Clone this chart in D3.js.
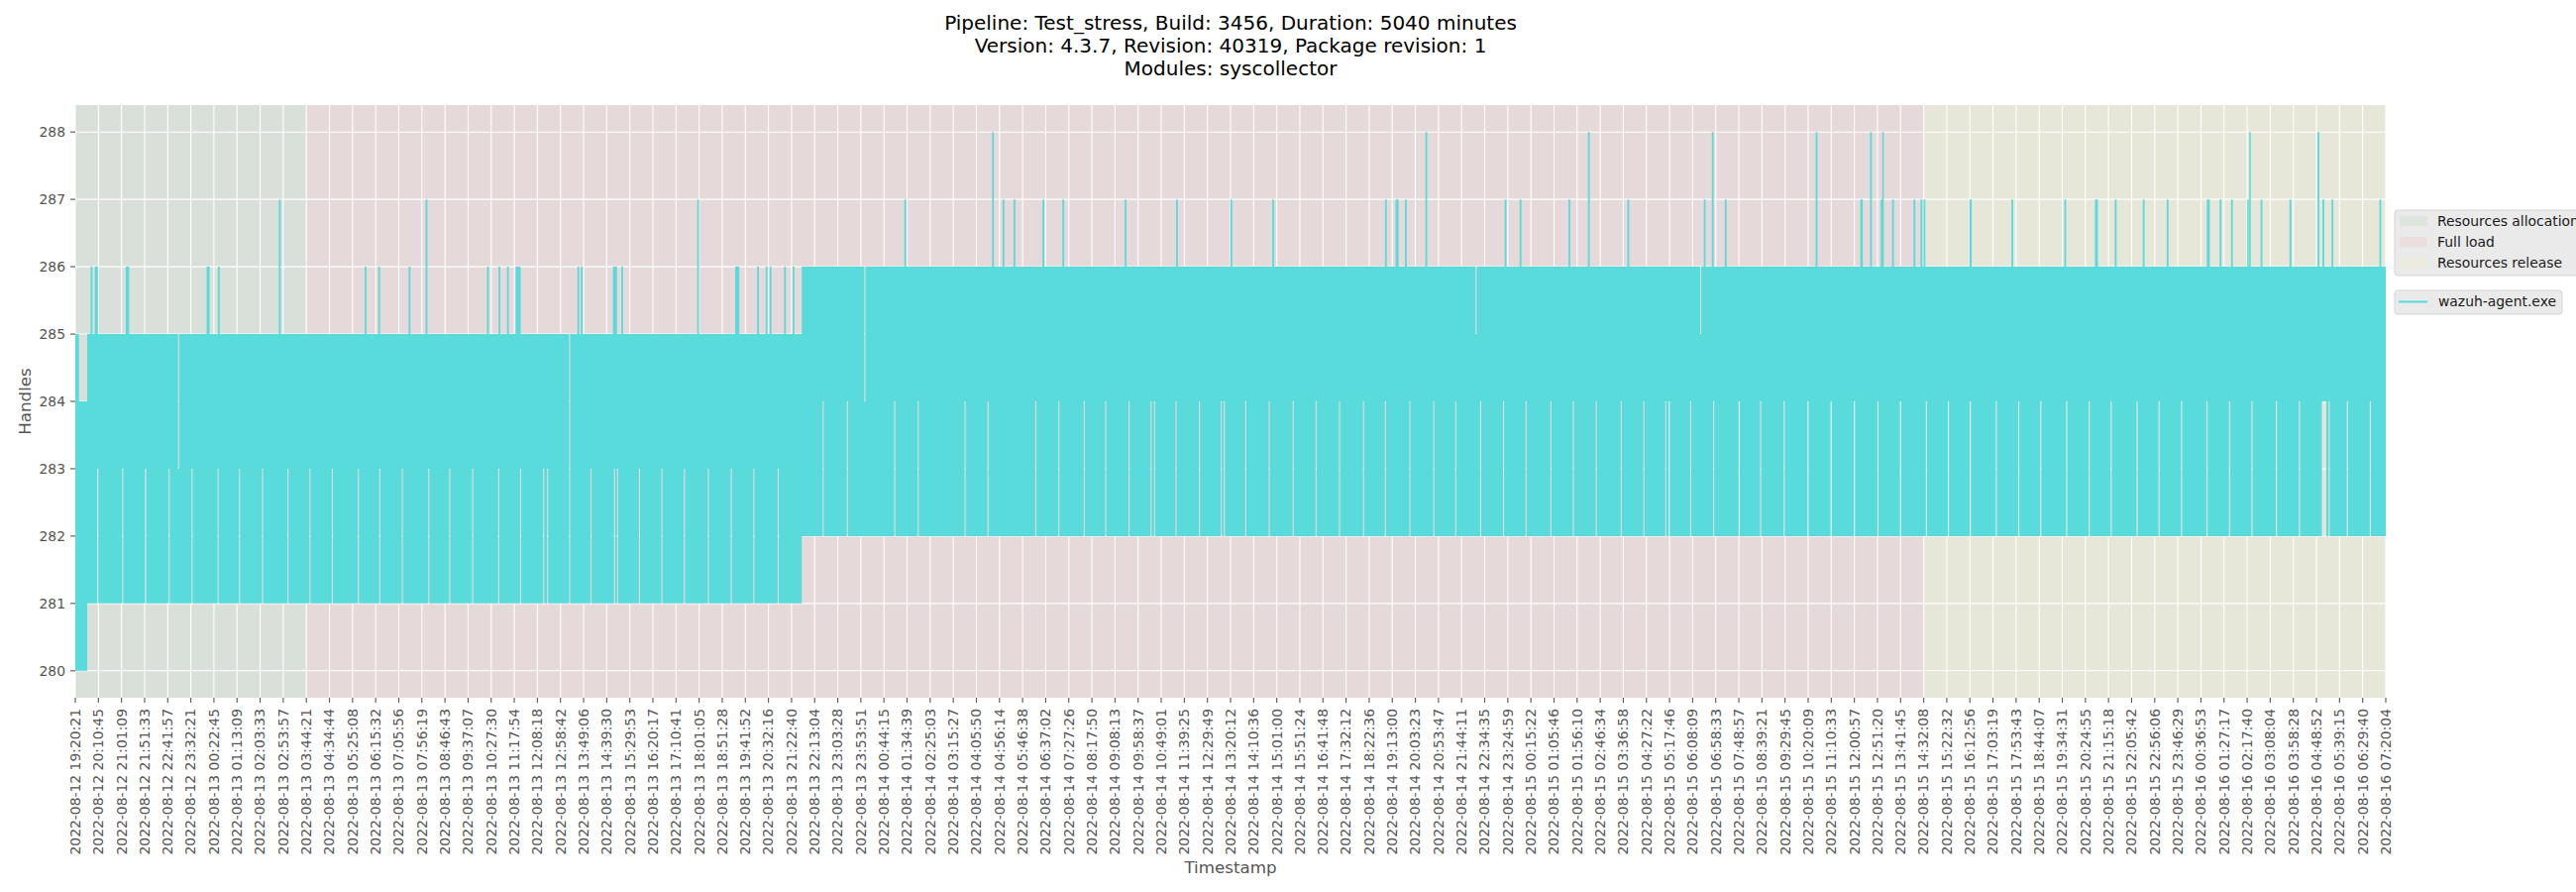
<!DOCTYPE html>
<html><head><meta charset="utf-8">
<script src="https://cdn.jsdelivr.net/npm/d3@7"></script>
<style>body{margin:0;background:#fff}svg{display:block}</style>
</head><body>
<svg id="chart" width="2600" height="900"></svg>
<script>
// ---------------- DATA ----------------
const titleLines = [
  "Pipeline: Test_stress, Build: 3456, Duration: 5040 minutes",
  "Version: 4.3.7, Revision: 40319, Package revision: 1",
  "Modules: syscollector"
];
const xLabel = "Timestamp";
const yLabel = "Handles";
const seriesName = "wazuh-agent.exe";

const tickLabels = [
"2022-08-12 19:20:21","2022-08-12 20:10:45","2022-08-12 21:01:09","2022-08-12 21:51:33","2022-08-12 22:41:57",
"2022-08-12 23:32:21","2022-08-13 00:22:45","2022-08-13 01:13:09","2022-08-13 02:03:33","2022-08-13 02:53:57",
"2022-08-13 03:44:21","2022-08-13 04:34:44","2022-08-13 05:25:08","2022-08-13 06:15:32","2022-08-13 07:05:56",
"2022-08-13 07:56:19","2022-08-13 08:46:43","2022-08-13 09:37:07","2022-08-13 10:27:30","2022-08-13 11:17:54",
"2022-08-13 12:08:18","2022-08-13 12:58:42","2022-08-13 13:49:06","2022-08-13 14:39:30","2022-08-13 15:29:53",
"2022-08-13 16:20:17","2022-08-13 17:10:41","2022-08-13 18:01:05","2022-08-13 18:51:28","2022-08-13 19:41:52",
"2022-08-13 20:32:16","2022-08-13 21:22:40","2022-08-13 22:13:04","2022-08-13 23:03:28","2022-08-13 23:53:51",
"2022-08-14 00:44:15","2022-08-14 01:34:39","2022-08-14 02:25:03","2022-08-14 03:15:27","2022-08-14 04:05:50",
"2022-08-14 04:56:14","2022-08-14 05:46:38","2022-08-14 06:37:02","2022-08-14 07:27:26","2022-08-14 08:17:50",
"2022-08-14 09:08:13","2022-08-14 09:58:37","2022-08-14 10:49:01","2022-08-14 11:39:25","2022-08-14 12:29:49",
"2022-08-14 13:20:12","2022-08-14 14:10:36","2022-08-14 15:01:00","2022-08-14 15:51:24","2022-08-14 16:41:48",
"2022-08-14 17:32:12","2022-08-14 18:22:36","2022-08-14 19:13:00","2022-08-14 20:03:23","2022-08-14 20:53:47",
"2022-08-14 21:44:11","2022-08-14 22:34:35","2022-08-14 23:24:59","2022-08-15 00:15:22","2022-08-15 01:05:46",
"2022-08-15 01:56:10","2022-08-15 02:46:34","2022-08-15 03:36:58","2022-08-15 04:27:22","2022-08-15 05:17:46",
"2022-08-15 06:08:09","2022-08-15 06:58:33","2022-08-15 07:48:57","2022-08-15 08:39:21","2022-08-15 09:29:45",
"2022-08-15 10:20:09","2022-08-15 11:10:33","2022-08-15 12:00:57","2022-08-15 12:51:20","2022-08-15 13:41:45",
"2022-08-15 14:32:08","2022-08-15 15:22:32","2022-08-15 16:12:56","2022-08-15 17:03:19","2022-08-15 17:53:43",
"2022-08-15 18:44:07","2022-08-15 19:34:31","2022-08-15 20:24:55","2022-08-15 21:15:18","2022-08-15 22:05:42",
"2022-08-15 22:56:06","2022-08-15 23:46:29","2022-08-16 00:36:53","2022-08-16 01:27:17","2022-08-16 02:17:40",
"2022-08-16 03:08:04","2022-08-16 03:58:28","2022-08-16 04:48:52","2022-08-16 05:39:15","2022-08-16 06:29:40",
"2022-08-16 07:20:04"
];
const yTicks = [280, 281, 282, 283, 284, 285, 286, 287, 288];

// test phases (shaded spans)
const phaseNames = ["Resources allocation", "Full load", "Resources release"];
const phaseStart = ["2022-08-12 19:20:21", "2022-08-13 03:44:21", "2022-08-15 14:32:08"];
const phaseEnd   = ["2022-08-13 03:44:21", "2022-08-15 14:32:08", "2022-08-16 07:20:04"];
const phaseColors = ["green", "red", "yellow"];

// Handles series (minutes elapsed since first timestamp).
// The sampled line oscillates quickly between a low and a high level:
// base band levels per stretch of time
const bandStartMin = [0, 8, 26, 1584.5];
const bandLow      = [280, 280, 281, 282];
const bandHigh     = [285, 284, 285, 286];

// short upward peaks: centre minute, peak value, duration (min)
const spikeMin = [35.4, 45.8, 113.8, 289.7, 313.1, 446.0, 633.3, 662.7, 729.1, 766.1,
  900.0, 925.1, 943.7, 966.0, 1097.2, 1104.8, 1177.3, 1193.0, 1358.6, 1444.0,
  1489.2, 1507.8, 1516.5, 1548.0, 1566.6,
  1810.3, 2001.7, 2024.5, 2048.5, 2111.6, 2155.0, 2291.0, 2403.0, 2521.6, 2612.9,
  2858.7, 2883.2, 2902.2, 2946.8, 3119.8, 3152.4, 3259.0, 3301.4,
  3387.5, 3554.1, 3571.6, 3599.9, 3798.1, 3896.2, 3916.8, 3939.7, 3943.0, 3964.8,
  4011.6, 4026.8, 4033.4, 4134.2, 4225.1, 4340.5, 4408.6, 4450.6, 4511.6, 4563.9,
  4652.6, 4679.3, 4704.3, 4739.2, 4743.6, 4768.6, 4831.8, 4892.8, 4903.7, 4923.3, 5027.8];
const spikeValue = [286, 286, 286, 286, 286, 287, 286, 286, 286, 287,
  286, 286, 286, 286, 286, 286, 286, 286, 287, 286,
  286, 286, 286, 286, 286,
  287, 288, 287, 287, 287, 287, 287, 287, 287, 287,
  287, 287, 287, 288, 287, 287, 287, 288,
  287, 287, 288, 287, 288, 287, 288, 287, 288, 287,
  287, 287, 287, 287, 287, 287, 287, 287, 287, 287,
  287, 287, 287, 287, 288, 287, 287, 288, 287, 287, 287];
const spikeLen = [3.9, 6.5, 7.6, 6.5, 3.9, 3.9, 3.9, 3.9, 3.9, 3.9,
  3.9, 3.9, 3.9, 10.9, 3.9, 3.9, 8.7, 3.9, 3.9, 8.8,
  3.9, 3.9, 3.9, 3.9, 3.9,
  3.9, 3.9, 3.9, 3.9, 3.9, 3.9, 3.9, 3.9, 3.9, 3.9,
  3.9, 6.5, 3.9, 3.9, 3.9, 3.9, 3.9, 3.9,
  3.9, 3.9, 3.9, 3.9, 3.9, 5.5, 3.9, 3.3, 3.3, 3.9,
  3.9, 3.9, 3.9, 4.5, 3.9, 3.9, 6.5, 3.9, 3.9, 3.9,
  6.5, 3.9, 3.9, 3.3, 3.3, 3.9, 3.9, 3.9, 3.9, 3.9, 3.9];

// moments where the lower level was not reached (lowest value 283 / 284)
const gapLen = 2.4;
const gapsAt283 = [49.0, 103.5, 153.5, 204.7, 254.8, 311.5, 358.3, 408.4, 463.9, 511.8,
  560.8, 617.5, 664.3, 713.3, 771.0, 816.8, 866.8, 923.5, 971.4, 1021.5,
  1030.2, 1078.1, 1124.9, 1176.1, 1182.7, 1230.6, 1279.6, 1328.6, 1380.9, 1430.9,
  1480.0, 1533.3];
const gapsAt284 = [1631.3, 1684.1, 1787.5, 1838.6, 1940.8, 1990.8, 2095.2, 2145.3, 2200.7, 2247.5,
  2298.6, 2346.5, 2354.1, 2400.9, 2452.0, 2499.8, 2506.4, 2553.1, 2604.3, 2656.5,
  2706.5, 2757.6, 2809.8, 2857.7, 2911.0, 2963.2, 3011.0, 3065.4, 3115.4, 3164.4,
  3218.8, 3267.7, 3317.7, 3372.1, 3421.3, 3469.2, 3476.8, 3523.6, 3573.7, 3629.3,
  3676.1, 3727.3, 3779.6, 3829.7, 3880.9, 3932.1, 3981.1, 4037.7, 4085.7, 4133.6,
  4190.2, 4239.3, 4287.2, 4343.8, 4392.8, 4440.7, 4497.4, 4545.3, 4594.3, 4649.9,
  4698.9, 4747.9, 4801.3, 4851.4, 4901.6, 4904.0, 4906.4, 4908.8, 4916.2, 4955.9, 5006.0];

// moments where the upper level dropped
const dropMin  = [225.4, 1078.1, 1722.2, 3055.6, 3545.4];
const dropHigh = [283, 283, 284, 285, 285];

// ---------------- DRAWING ----------------
const svg = d3.select("#chart");
const W = 2600, H = 900;
const M = {left: 76, right: 2408, top: 106, bottom: 704};
const FONT = "DejaVu Sans, Liberation Sans, sans-serif";
const lineColor = "#58dbda";
const textGrey = "#555555";

svg.append("rect").attr("width", W).attr("height", H).attr("fill", "#ffffff");

const parseTs = d3.utcParse("%Y-%m-%d %H:%M:%S");
const fmtTs = d3.utcFormat("%Y-%m-%d %H:%M:%S");
const tickDates = tickLabels.map(parseTs);
const t0 = tickDates[0];
const tEnd = tickDates[tickDates.length - 1];
const endMin = (tEnd - t0) / 60000;
const toDate = m => new Date(t0.getTime() + m * 60000);

const x = d3.scaleUtc().domain([t0, tEnd]).range([M.left, M.right]);
const y = d3.scaleLinear().domain([279.6, 288.4]).range([M.bottom, M.top]);

// plot background
svg.append("rect").attr("x", M.left).attr("y", M.top)
  .attr("width", M.right - M.left).attr("height", M.bottom - M.top).attr("fill", "#e5e5e5");

// phase spans
svg.append("g").selectAll("rect").data(phaseNames).join("rect")
  .attr("x", (d, i) => x(parseTs(phaseStart[i])))
  .attr("width", (d, i) => x(parseTs(phaseEnd[i])) - x(parseTs(phaseStart[i])))
  .attr("y", M.top).attr("height", M.bottom - M.top)
  .attr("fill", (d, i) => phaseColors[i]).attr("fill-opacity", 0.05);

// grid
const grid = svg.append("g").attr("stroke", "#ffffff").attr("stroke-width", 1.1);
grid.selectAll("line.h").data(yTicks).join("line").attr("class", "h")
  .attr("x1", M.left).attr("x2", M.right).attr("y1", d => y(d)).attr("y2", d => y(d));
grid.selectAll("line.v").data(tickDates).join("line").attr("class", "v")
  .attr("y1", M.top).attr("y2", M.bottom).attr("x1", d => x(d)).attr("x2", d => x(d));

// build envelope of the series from the read levels/events
const events = [];
spikeMin.forEach((c, i) => events.push({a: c - spikeLen[i] / 2, b: c + spikeLen[i] / 2, hi: spikeValue[i]}));
gapsAt283.forEach(c => events.push({a: c - gapLen / 2, b: c + gapLen / 2, lo: 283}));
gapsAt284.forEach(c => events.push({a: c - gapLen / 2, b: c + gapLen / 2, lo: 284}));
dropMin.forEach((c, i) => events.push({a: c - gapLen / 2, b: c + gapLen / 2, cap: dropHigh[i]}));

const bp = new Set([0, endMin, ...bandStartMin]);
events.forEach(e => { bp.add(Math.max(0, e.a)); bp.add(Math.min(endMin, e.b)); });
const pts = Array.from(bp).filter(v => v >= 0 && v <= endMin).sort((a, b) => a - b);
const envelope = pts.map((t, i) => {
  const mid = i < pts.length - 1 ? (t + pts[i + 1]) / 2 : t;
  let k = bandStartMin.length - 1;
  while (k > 0 && bandStartMin[k] > mid) k--;
  let lo = bandLow[k], hi = bandHigh[k];
  events.forEach(e => {
    if (mid >= e.a && mid < e.b) {
      if (e.hi != null) hi = Math.max(hi, e.hi);
      if (e.lo != null) lo = Math.max(lo, e.lo);
    }
  });
  events.forEach(e => {
    if (mid >= e.a && mid < e.b && e.cap != null) hi = Math.min(hi, e.cap);
  });
  if (lo > hi) lo = hi;
  return {date: toDate(t), lo, hi};
});

const area = d3.area()
  .x(d => x(d.date)).y0(d => y(d.lo)).y1(d => y(d.hi))
  .curve(d3.curveStepAfter);
svg.append("path").datum(envelope).attr("d", area).attr("fill", lineColor);

// axes ticks
const axG = svg.append("g").attr("font-family", FONT);
// y ticks
axG.selectAll("line.yt").data(yTicks).join("line").attr("class", "yt")
  .attr("x1", M.left - 5).attr("x2", M.left).attr("y1", d => y(d)).attr("y2", d => y(d))
  .attr("stroke", textGrey).attr("stroke-width", 1.1);
axG.selectAll("text.yl").data(yTicks).join("text").attr("class", "yl")
  .attr("x", M.left - 10).attr("y", d => y(d)).attr("dy", "0.35em")
  .attr("text-anchor", "end").attr("font-size", 13.9).attr("fill", textGrey)
  .text(d => d3.format("d")(d));
// x ticks
axG.selectAll("line.xt").data(tickDates).join("line").attr("class", "xt")
  .attr("x1", d => x(d)).attr("x2", d => x(d)).attr("y1", M.bottom).attr("y2", M.bottom + 5)
  .attr("stroke", textGrey).attr("stroke-width", 1.1);
axG.selectAll("text.xl").data(tickDates).join("text").attr("class", "xl")
  .attr("transform", d => `translate(${x(d)},${M.bottom + 11}) rotate(-90)`)
  .attr("dy", "0.35em").attr("text-anchor", "end")
  .attr("font-size", 13.9).attr("fill", textGrey)
  .text(d => fmtTs(d));

// axis labels
svg.append("text").attr("x", (M.left + M.right) / 2).attr("y", 881)
  .attr("text-anchor", "middle").attr("font-family", FONT).attr("font-size", 16.7)
  .attr("fill", textGrey).text(xLabel);
svg.append("text").attr("transform", `translate(31,${(M.top + M.bottom) / 2}) rotate(-90)`)
  .attr("text-anchor", "middle").attr("font-family", FONT).attr("font-size", 16.7)
  .attr("fill", textGrey).text(yLabel);

// title
svg.append("g").selectAll("text").data(titleLines).join("text")
  .attr("x", (M.left + M.right) / 2).attr("y", (d, i) => 30 + i * 23)
  .attr("text-anchor", "middle").attr("font-family", FONT).attr("font-size", 20)
  .attr("fill", "#000000").text(d => d);

// legend 1: phases
const lg1 = svg.append("g").attr("font-family", FONT);
lg1.append("rect").attr("x", 2417).attr("y", 212).attr("width", 240).attr("height", 66)
  .attr("rx", 3).attr("fill", "#eaeaea").attr("stroke", "#d4d4d4").attr("stroke-width", 1);
phaseNames.forEach((n, i) => {
  const cy = 223.3 + i * 20.8;
  lg1.append("rect").attr("x", 2422).attr("y", cy - 5).attr("width", 28).attr("height", 10)
    .attr("fill", phaseColors[i]).attr("fill-opacity", 0.05);
  lg1.append("text").attr("x", 2460).attr("y", cy).attr("dy", "0.35em")
    .attr("font-size", 13.9).attr("fill", "#1a1a1a").text(n);
});
// legend 2: series
const lg2 = svg.append("g").attr("font-family", FONT);
lg2.append("rect").attr("x", 2417).attr("y", 293).attr("width", 169).attr("height", 24)
  .attr("rx", 3).attr("fill", "#eaeaea").attr("stroke", "#d4d4d4").attr("stroke-width", 1);
lg2.append("line").attr("x1", 2421).attr("x2", 2450).attr("y1", 304.5).attr("y2", 304.5)
  .attr("stroke", lineColor).attr("stroke-width", 2);
lg2.append("text").attr("x", 2461).attr("y", 304.5).attr("dy", "0.35em")
  .attr("font-size", 13.9).attr("fill", "#1a1a1a").text(seriesName);
</script>
</body></html>
